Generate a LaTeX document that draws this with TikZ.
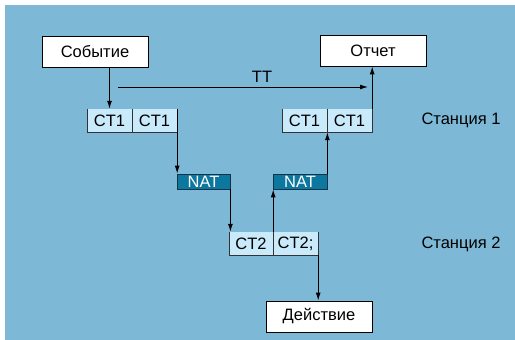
\documentclass[tikz,border=0pt]{standalone}
\usepackage{fontspec}
\setmainfont{Liberation Sans}
\usetikzlibrary{arrows.meta}
\definecolor{bgblue}{RGB}{125,185,215}
\definecolor{cellfill}{RGB}{200,234,250}
\definecolor{natfill}{RGB}{12,120,160}
\definecolor{natedge}{RGB}{20,50,70}
\begin{document}
\begin{tikzpicture}[x=1pt,y=-1pt,
  every node/.style={font=\fontsize{16.5}{18}\selectfont, inner sep=0pt},
  mainbox/.style={draw=black, line width=0.8pt, fill=white, minimum width=106pt, minimum height=31pt},
  cell/.style={fill=cellfill, minimum width=45pt, minimum height=23pt},
  natbox/.style={fill=natfill, draw=natedge, line width=0.8pt, text=white, minimum height=15pt},
  celledge/.style={draw=black!80, line width=0.6pt},
  arr/.style={draw=black, line width=1pt, -{Latex[length=8pt,width=5pt]}}]
\useasboundingbox (0,0) rectangle (515,340);
\fill[white] (0,0) rectangle (515,340);
\fill[bgblue] (5,5) rectangle (515,340);

% main boxes
\node[mainbox] (ev) at (95,51.5) {Событие\hspace{8pt}};
\node[mainbox] (rep) at (373,50.5) {Отчет};
\node[mainbox] (act) at (319,316.5) {Действие};

% cells
\node[cell] (a1) at (109.5,120.5) {CT1\hspace{4pt}};
\node[cell] (a2) at (154.5,120.5) {CT1\hspace{4pt}};
\node[cell] (b1) at (304.5,120.5) {CT1\hspace{4pt}};
\node[cell] (b2) at (349.5,120.5) {CT1\hspace{4pt}};
\node[cell, minimum width=44pt] (c1) at (251,243.5) {CT2\hspace{4pt}};
\node[cell] (c2) at (295.5,243.5) {CT2;\hspace{2pt}};
\foreach \c in {a1,a2,b1,b2,c1,c2}{
  \draw[celledge] (\c.north west) -- (\c.south west) -- (\c.south east) -- (\c.north east);
}

% NAT
\node[natbox, minimum width=53pt] (n1) at (203.5,181.5) {NAT};
\node[natbox, minimum width=54pt] (n2) at (300,181.5) {NAT};

% labels
\node (s1) at (461,120) {Станция 1};
\node (s2) at (461,244) {Станция 2};

% connectors
\draw[arr] (ev.south -| a1.north) -- (a1.north);
\coordinate (tts) at (118,87);
\coordinate (tte) at (368,87);
\draw[arr] (tts) -- (tte) node[midway, above=4pt, xshift=19pt] (tt) {TT};
\draw[arr] (a2.north east) -- (a2.north east |- n1.north);
\draw[arr] (n1.south east) -- (n1.south east |- c1.north);
\draw[arr] (c1.north east) -- (c1.north east |- n2.south);
\draw[arr] (n2.north east) -- (n2.north east |- b1.south);
\draw[arr] (b2.north east) -- (b2.north east |- rep.south);
\draw[arr] (c2.south east) -- (c2.south east |- act.north);
\end{tikzpicture}
\end{document}
